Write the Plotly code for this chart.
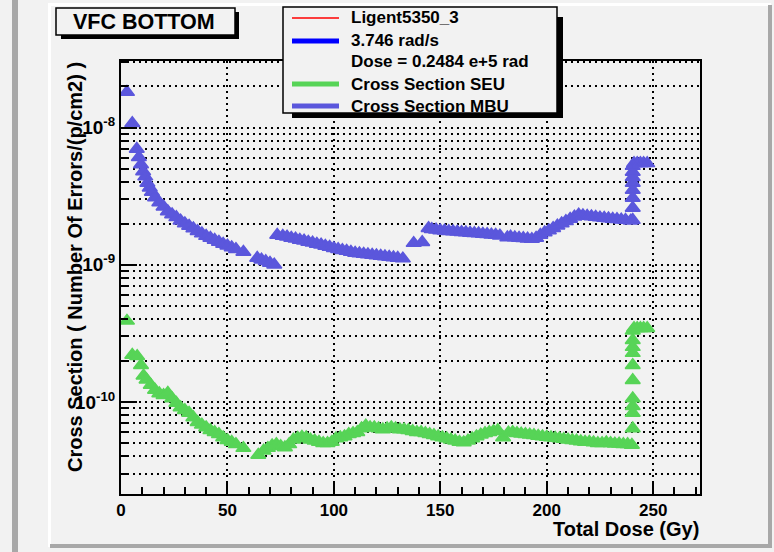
import plotly.graph_objects as go

# ---------------- data ----------------
mbu_dose = [2.8, 5.3, 7.4, 8.4, 9.4, 10.4, 11.4, 12.4, 13.5, 14.5, 16, 18, 20, 22, 24, 26, 28, 30,
            32, 34, 36, 38, 40, 42, 44, 46, 48, 50, 52, 54, 57.5,
            64, 66, 68, 70, 72,
            73.4, 76, 78, 80, 82, 84, 86, 88, 90, 92, 94, 96, 98, 100, 102, 104, 106, 108, 110,
            112, 114, 116, 118, 120, 122, 124, 126, 128, 130, 132.4,
            137.5, 141.5, 144.5, 146, 148, 150, 152, 154, 156, 158, 160, 162, 164, 166, 168, 170,
            172, 174, 176, 178, 181.5, 183, 185, 187, 189, 191, 193, 195, 197, 199, 201, 203, 205,
            207, 209, 211, 213, 215, 217, 219, 221, 223, 225, 227, 229, 231, 233, 235, 237, 239.5,
            240.4, 240.4, 240.4, 240.4, 240.4, 240.4, 240.4, 240.4,
            241.0, 242.5, 244.0, 245.5, 247.2]
mbu_xs = [1.82e-8, 1.08e-8, 7.0e-9, 6.1e-9, 5.4e-9, 4.8e-9, 4.4e-9, 3.95e-9, 3.65e-9, 3.4e-9, 3.1e-9,
          2.85e-9, 2.65e-9, 2.45e-9, 2.33e-9, 2.22e-9, 2.1e-9, 2.0e-9,
          1.92e-9, 1.84e-9, 1.76e-9, 1.69e-9, 1.62e-9, 1.57e-9, 1.52e-9, 1.47e-9, 1.42e-9, 1.38e-9,
          1.34e-9, 1.30e-9, 1.24e-9,
          1.12e-9, 1.09e-9, 1.06e-9, 1.03e-9, 1.0e-9,
          1.65e-9, 1.62e-9, 1.6e-9, 1.57e-9, 1.55e-9, 1.52e-9, 1.5e-9, 1.47e-9, 1.45e-9, 1.42e-9,
          1.4e-9, 1.37e-9, 1.35e-9, 1.32e-9, 1.3e-9, 1.28e-9, 1.26e-9, 1.24e-9, 1.22e-9,
          1.21e-9, 1.2e-9, 1.19e-9, 1.18e-9, 1.17e-9, 1.16e-9, 1.15e-9, 1.14e-9, 1.13e-9, 1.12e-9, 1.11e-9,
          1.44e-9, 1.46e-9, 1.85e-9, 1.82e-9, 1.8e-9, 1.78e-9, 1.77e-9, 1.76e-9, 1.75e-9, 1.74e-9,
          1.73e-9, 1.72e-9, 1.71e-9, 1.7e-9, 1.69e-9, 1.68e-9,
          1.67e-9, 1.66e-9, 1.65e-9, 1.63e-9, 1.58e-9, 1.6e-9, 1.58e-9, 1.57e-9, 1.56e-9, 1.55e-9,
          1.54e-9, 1.57e-9, 1.65e-9, 1.72e-9, 1.78e-9, 1.85e-9, 1.93e-9,
          2.0e-9, 2.08e-9, 2.16e-9, 2.24e-9, 2.32e-9, 2.29e-9, 2.27e-9, 2.25e-9, 2.23e-9, 2.21e-9,
          2.2e-9, 2.18e-9, 2.16e-9, 2.15e-9, 2.13e-9, 2.12e-9, 2.1e-9,
          2.12e-9, 2.6e-9, 3.07e-9, 3.51e-9, 3.95e-9, 4.36e-9, 4.75e-9, 5.25e-9,
          5.5e-9, 5.5e-9, 5.5e-9, 5.5e-9, 5.5e-9]

seu_dose = [2.8, 5.3, 7.6, 9.4, 10.6, 12, 14, 16, 18, 20, 22, 24, 26, 28, 30, 32, 34, 36, 38, 40,
            42, 44, 46, 48, 50, 52, 54, 57.5,
            64.5, 67, 69, 71, 73, 75, 77, 79, 81, 83, 85, 87, 89, 91, 93, 95, 97, 99, 101, 103, 105,
            107, 109, 111, 113, 115, 117, 119, 121, 123, 125, 127, 129, 131, 133, 135, 137, 139, 141,
            143, 145, 147, 149, 151, 153, 155, 157, 159, 161, 163, 165, 167, 169, 171, 173, 175, 177,
            179.5, 182, 184, 186, 188, 190, 192, 194, 196, 198, 200, 202, 204, 206, 208, 210, 212, 214,
            216, 218, 220, 222, 224, 226, 228, 230, 232, 234, 236, 238, 240,
            240.4, 240.4, 240.4, 240.4, 240.4, 240.4, 240.4, 240.4, 240.4, 240.4,
            241.0, 242.5, 244.0, 245.5, 247.2]
seu_xs = [3.9e-10, 2.2e-10, 2.15e-10, 1.85e-10, 1.55e-10, 1.45e-10, 1.33e-10, 1.22e-10, 1.15e-10,
          1.12e-10, 1.16e-10, 1.06e-10, 9.8e-11, 9.1e-11, 8.7e-11, 8.3e-11, 7.7e-11, 7.1e-11, 6.8e-11,
          6.5e-11, 6.2e-11, 6.0e-11, 5.8e-11, 5.5e-11, 5.25e-11, 5.1e-11, 4.9e-11, 4.6e-11,
          4.1e-11, 4.4e-11, 4.6e-11, 4.8e-11, 4.9e-11, 4.75e-11, 4.65e-11, 4.9e-11, 5.3e-11, 5.45e-11,
          5.55e-11, 5.5e-11, 5.3e-11, 5.2e-11, 5.1e-11, 5.0e-11, 5.0e-11, 5.1e-11, 5.4e-11, 5.5e-11,
          5.6e-11, 5.8e-11, 5.9e-11, 6.0e-11, 6.4e-11, 6.7e-11, 6.5e-11, 6.5e-11, 6.4e-11, 6.3e-11,
          6.4e-11, 6.5e-11, 6.4e-11, 6.3e-11, 6.3e-11, 6.2e-11, 6.1e-11, 6.0e-11, 6.0e-11,
          5.9e-11, 5.8e-11, 5.7e-11, 5.6e-11, 5.5e-11, 5.4e-11, 5.3e-11, 5.2e-11, 5.1e-11, 5.05e-11,
          5.2e-11, 5.4e-11, 5.6e-11, 5.75e-11, 5.9e-11, 6.0e-11, 6.1e-11, 6.2e-11,
          5.5e-11, 5.95e-11, 6.0e-11, 5.9e-11, 5.85e-11, 5.8e-11, 5.75e-11, 5.7e-11, 5.65e-11, 5.6e-11,
          5.55e-11, 5.5e-11, 5.45e-11, 5.4e-11, 5.35e-11, 5.3e-11, 5.25e-11, 5.2e-11,
          5.15e-11, 5.1e-11, 5.1e-11, 5.05e-11, 5.0e-11, 5.0e-11, 5.05e-11, 5.0e-11, 4.95e-11,
          4.95e-11, 4.9e-11, 4.9e-11, 4.85e-11,
          6.4e-11, 8.3e-11, 9.3e-11, 1.06e-10, 1.44e-10, 1.85e-10, 2.27e-10, 2.51e-10, 2.82e-10, 3.3e-10,
          3.45e-10, 3.45e-10, 3.45e-10, 3.45e-10, 3.45e-10]

x_ticks = [0, 50, 100, 150, 200, 250]
y_decades = [1e-10, 1e-9, 1e-8]
y_decade_labels = ["10<sup>-10</sup>", "10<sup>-9</sup>", "10<sup>-8</sup>"]
y_minor = [m * 10.0 ** e for e in (-11, -10, -9, -8) for m in range(2, 10)]

legend_labels = ["Ligent5350_3", "3.746 rad/s", "Dose = 0.2484 e+5 rad",
                 "Cross Section SEU", "Cross Section MBU"]
legend_colors = ["#ff0000", "#0000ff", None, "#57d457", "#5b57dc"]
legend_widths = [1.5, 5, 0, 5, 5]

title_text = "VFC BOTTOM"
x_title = "Total Dose (Gy)"
y_title = "Cross Section ( Number Of Errors/(p/cm2) )"

SEU_COLOR = "#57d457"
MBU_COLOR = "#5b57dc"

# ---------------- geometry ----------------
W, H = 774, 552
L, R, T, B = 121, 700, 61, 494
PW, PH = R - L, B - T


def px(x):
    return (x - L) / PW


def py(y):
    return (B - y) / PH


FONT = "Liberation Sans, Arial, Helvetica, sans-serif"
BG = "#f2f2f2"
GRID_DASH = "2px,4px"

fig = go.Figure()
fig.add_trace(go.Scatter(x=seu_dose, y=seu_xs, mode="markers", name="Cross Section SEU",
                         marker=dict(symbol="triangle-up", size=13, color=SEU_COLOR,
                                     line=dict(width=1.5, color=SEU_COLOR)), hoverinfo="x+y"))
fig.add_trace(go.Scatter(x=mbu_dose, y=mbu_xs, mode="markers", name="Cross Section MBU",
                         marker=dict(symbol="triangle-up", size=13, color=MBU_COLOR,
                                     line=dict(width=1.5, color=MBU_COLOR)), hoverinfo="x+y"))
# dummy trace so the decade-tick overlay axis is drawn
fig.add_trace(go.Scatter(x=[None], y=[None], yaxis="y2", showlegend=False, hoverinfo="skip"))

y_all = sorted(y_decades + y_minor)
y_text = [y_decade_labels[y_decades.index(v)] if v in y_decades else "" for v in y_all]

fig.update_layout(
    width=W, height=H,
    margin=dict(l=L, r=W - R, t=T, b=H - B, autoexpand=False),
    paper_bgcolor=BG, plot_bgcolor=BG,
    showlegend=False,
    font=dict(family=FONT, color="black"),
    xaxis=dict(range=[0, 272], tickmode="array", tickvals=x_ticks,
               ticks="inside", ticklen=11, tickwidth=1.5, tickcolor="black",
               minor=dict(dtick=10, tick0=0, ticks="inside", ticklen=7, tickwidth=1.5,
                          tickcolor="black", showgrid=False),
               showgrid=True, gridcolor="black", griddash=GRID_DASH, gridwidth=1.5,
               showline=True, linecolor="black", linewidth=2, mirror=True,
               zeroline=False, tickfont=dict(size=17, weight="bold"),
               automargin=False),
    yaxis=dict(type="log", range=[-10.672, -7.513], tickmode="array",
               tickvals=y_all, ticktext=y_text,
               ticks="inside", ticklen=7, tickwidth=1.5, tickcolor="black",
               showgrid=True, gridcolor="black", griddash=GRID_DASH, gridwidth=1.5,
               showline=True, linecolor="black", linewidth=2, mirror=True,
               zeroline=False, tickfont=dict(size=19, weight="bold"),
               automargin=False),
    yaxis2=dict(type="log", range=[-10.672, -7.513], overlaying="y", side="left",
                tickmode="array", tickvals=y_decades, ticktext=["", "", ""],
                ticks="inside", ticklen=16, tickwidth=1.5, tickcolor="black",
                showgrid=False, showline=False, zeroline=False, automargin=False),
)

shapes = []
# canvas bevels
shapes.append(dict(type="rect", xref="paper", yref="paper", x0=px(12), x1=px(18), y0=py(0), y1=py(552),
                   fillcolor="#a8a8a8", line=dict(width=0), layer="below"))
shapes.append(dict(type="rect", xref="paper", yref="paper", x0=px(48), x1=px(51), y0=py(547), y1=py(3),
                   fillcolor="#ffffff", line=dict(width=0), layer="below"))
shapes.append(dict(type="rect", xref="paper", yref="paper", x0=px(48), x1=px(771), y0=py(6), y1=py(3),
                   fillcolor="#ffffff", line=dict(width=0), layer="below"))
shapes.append(dict(type="rect", xref="paper", yref="paper", x0=px(768), x1=px(772), y0=py(548), y1=py(5),
                   fillcolor="#a8a8a8", line=dict(width=0), layer="below"))
shapes.append(dict(type="rect", xref="paper", yref="paper", x0=px(50), x1=px(772), y0=py(548), y1=py(544),
                   fillcolor="#a8a8a8", line=dict(width=0), layer="below"))
# title box with shadow
shapes.append(dict(type="rect", xref="paper", yref="paper", x0=px(61), x1=px(239), y0=py(39), y1=py(12),
                   fillcolor="black", line=dict(width=0)))
shapes.append(dict(type="rect", xref="paper", yref="paper", x0=px(56), x1=px(235), y0=py(35), y1=py(8),
                   fillcolor=BG, line=dict(color="black", width=1.5)))
# legend box with shadow
shapes.append(dict(type="rect", xref="paper", yref="paper", x0=px(292), x1=px(563), y0=py(118), y1=py(17),
                   fillcolor="black", line=dict(width=0)))
shapes.append(dict(type="rect", xref="paper", yref="paper", x0=px(283), x1=px(557), y0=py(113), y1=py(7),
                   fillcolor=BG, line=dict(color="black", width=1.5)))

annotations = []
rows = [18, 41, 62, 84, 106]
for lab, col, wdt, ry in zip(legend_labels, legend_colors, legend_widths, rows):
    if col is not None:
        shapes.append(dict(type="line", xref="paper", yref="paper", x0=px(292), x1=px(339),
                           y0=py(ry), y1=py(ry), line=dict(color=col, width=wdt)))
    annotations.append(dict(text=lab, xref="paper", yref="paper", x=px(349), y=py(ry),
                            xanchor="left", yanchor="middle", showarrow=False,
                            font=dict(size=17, weight="bold", family=FONT)))

annotations.append(dict(text=title_text, xref="paper", yref="paper", x=px(144), y=py(22),
                        xanchor="center", yanchor="middle", showarrow=False,
                        font=dict(size=21.5, weight="bold", family=FONT)))
annotations.append(dict(text=x_title, xref="paper", yref="paper", x=px(701), y=py(529),
                        xanchor="right", yanchor="middle", showarrow=False,
                        font=dict(size=20, weight="bold", family=FONT)))
annotations.append(dict(text=y_title, xref="paper", yref="paper", x=px(75), y=py(60),
                        xanchor="center", yanchor="top", textangle=-90, showarrow=False,
                        font=dict(size=20, weight="bold", family=FONT)))

fig.update_layout(shapes=shapes, annotations=annotations)
fig.write_html("out.html", config={"displayModeBar": False},
               post_script="document.body.style.margin='0';document.body.style.overflow='hidden';")
